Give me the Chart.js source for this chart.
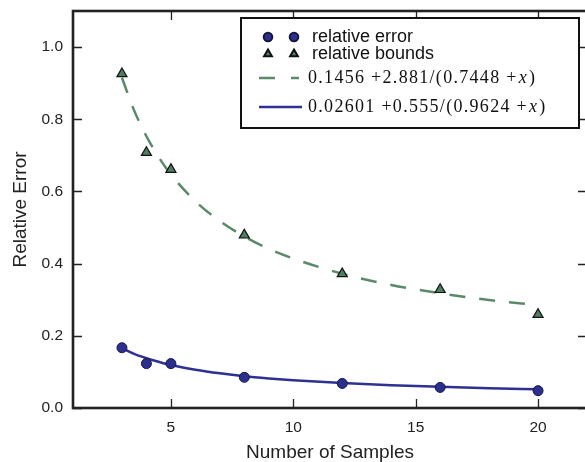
<!DOCTYPE html>
<html>
<head>
<meta charset="utf-8">
<script src="https://cdn.jsdelivr.net/npm/chart.js"></script>
<style>
  html, body { margin: 0; padding: 0; background: #fff; overflow: hidden; }
  #wrap { position: relative; width: 594px; height: 462px; }
</style>
</head>
<body>
<div id="wrap"><canvas id="grafica" width="594" height="462"></canvas></div>
<script>
// Muestras medidas
var muestras = [3, 4, 5, 8, 12, 16, 20];
var errorRelativo = [0.167, 0.123, 0.123, 0.085, 0.068, 0.057, 0.048];
var cotasRelativas = [0.926, 0.708, 0.661, 0.479, 0.372, 0.328, 0.259];

// Curvas de ajuste
var xAjuste = [3, 3.5, 4, 4.5, 5, 6, 7, 8, 9, 10, 12, 14, 16, 18, 20];
var ajusteCotas = [0.915, 0.824, 0.753, 0.695, 0.647, 0.573, 0.518, 0.475, 0.441, 0.414, 0.372, 0.341, 0.318, 0.299, 0.285];
var ajusteError = [0.166, 0.150, 0.138, 0.128, 0.119, 0.106, 0.096, 0.088, 0.082, 0.077, 0.069, 0.063, 0.059, 0.055, 0.052];

// Ejes
var xTicks = [5, 10, 15, 20];
var yTicks = [0, 0.2, 0.4, 0.6, 0.8, 1.0];
var etiquetas = ['relative error', 'relative bounds'];
var formulaCotas = ['0.1456 +2.881/(0.7448 +', 'x', ')'];
var formulaError = ['0.02601 +0.555/(0.9624 +', 'x', ')'];

var AZUL = '#2c2f8e', AZUL_BORDE = '#15173f', AZUL_LINEA = '#2e3192';
var VERDE = '#4f7e60', VERDE_LINEA = '#5a8a6a';

function puntos(xs, ys) {
    return xs.map(function (x, i) { return { x: x, y: ys[i] }; });
}

// sin relleno extra de las escalas
function sinPadding(s) {
    s.paddingTop = 0; s.paddingBottom = 0;
    s.paddingLeft = 0; s.paddingRight = 0;
}

// Marco con ticks hacia adentro en los cuatro lados
var marco = {
    id: 'marco',
    afterDatasetsDraw: function (chart) {
        var c = chart.ctx, a = chart.chartArea;
        var sx = chart.scales.x, sy = chart.scales.y;
        var largo = 9;
        c.save();
        c.strokeStyle = '#222';
        c.lineWidth = 1.3;
        c.beginPath();
        xTicks.forEach(function (v) {
            var px = Math.round(sx.getPixelForValue(v)) + 0.5;
            c.moveTo(px, a.bottom); c.lineTo(px, a.bottom - largo);
            c.moveTo(px, a.top); c.lineTo(px, a.top + largo);
        });
        yTicks.forEach(function (v) {
            var py = Math.round(sy.getPixelForValue(v)) + 0.5;
            c.moveTo(a.left, py); c.lineTo(a.left + largo, py);
            c.moveTo(a.right, py); c.lineTo(a.right - largo, py);
        });
        c.stroke();
        c.lineWidth = 2.6;
        c.strokeRect(a.left, a.top, a.right - a.left, a.bottom - a.top);
        c.restore();
    }
};

function textoFormula(c, partes, x, y) {
    c.letterSpacing = '1.3px';
    c.font = '18px "Liberation Serif"';
    c.fillText(partes[0], x, y);
    x += c.measureText(partes[0]).width + 1;
    c.font = 'italic 18px "Liberation Serif"';
    c.fillText(partes[1], x, y);
    x += c.measureText(partes[1]).width + 1;
    c.font = '18px "Liberation Serif"';
    c.fillText(partes[2], x, y);
    c.letterSpacing = '0px';
}

// Leyenda dentro del area del grafico
var leyenda = {
    id: 'leyenda',
    afterDraw: function (chart) {
        var c = chart.ctx;
        c.save();
        c.fillStyle = '#fff';
        c.fillRect(241, 18, 338, 110);
        c.strokeStyle = '#111';
        c.lineWidth = 2;
        c.strokeRect(241, 18, 338, 110);

        var filas = [37, 54, 78, 107];
        // circulos
        c.fillStyle = AZUL; c.strokeStyle = AZUL_BORDE;
        [268, 294].forEach(function (x) {
            Chart.helpers.drawPoint(c, { pointStyle: 'circle', radius: 4.3, borderWidth: 1, rotation: 0 }, x, filas[0]);
        });
        // triangulos
        c.fillStyle = VERDE; c.strokeStyle = '#111';
        [268, 294].forEach(function (x) {
            Chart.helpers.drawPoint(c, { pointStyle: 'triangle', radius: 4.5, borderWidth: 1, rotation: 0 }, x, filas[1]);
        });
        // lineas
        c.lineWidth = 2.5;
        c.strokeStyle = VERDE_LINEA;
        c.setLineDash([16, 16]);
        c.beginPath(); c.moveTo(259, filas[2]); c.lineTo(299, filas[2]); c.stroke();
        c.setLineDash([]);
        c.strokeStyle = AZUL_LINEA;
        c.beginPath(); c.moveTo(259, filas[3]); c.lineTo(302, filas[3]); c.stroke();

        // textos
        c.fillStyle = '#111';
        c.textBaseline = 'middle';
        c.font = '18px "Liberation Sans"';
        c.fillText(etiquetas[0], 312, filas[0]);
        c.fillText(etiquetas[1], 312, filas[1]);
        textoFormula(c, formulaCotas, 308, filas[2]);
        textoFormula(c, formulaError, 308, filas[3]);
        c.restore();
    }
};

var ctx = document.getElementById('grafica').getContext('2d');

var grafica = new Chart(ctx, {
    type: 'scatter',
    data: {
        datasets: [{
            label: etiquetas[0],
            data: puntos(muestras, errorRelativo),
            pointStyle: 'circle',
            pointRadius: 5,
            backgroundColor: AZUL,
            borderColor: AZUL_BORDE,
            borderWidth: 1
        }, {
            label: etiquetas[1],
            data: puntos(muestras, cotasRelativas),
            pointStyle: 'triangle',
            pointRadius: 5.8,
            backgroundColor: VERDE,
            borderColor: '#111',
            borderWidth: 1.2
        }, {
            label: formulaCotas.join(''),
            data: puntos(xAjuste, ajusteCotas),
            showLine: true,
            pointRadius: 0,
            borderColor: VERDE_LINEA,
            borderWidth: 2.5,
            borderDash: [16, 14],
            cubicInterpolationMode: 'monotone'
        }, {
            label: formulaError.join(''),
            data: puntos(xAjuste, ajusteError),
            showLine: true,
            pointRadius: 0,
            borderColor: AZUL_LINEA,
            borderWidth: 2.5,
            cubicInterpolationMode: 'monotone'
        }]
    },
    options: {
        responsive: false,
        animation: false,
        layout: { padding: { top: 11, right: 3, left: 0, bottom: 0 } },
        plugins: {
            legend: { display: false },
            tooltip: { enabled: false }
        },
        scales: {
            x: {
                type: 'linear',
                min: 1,
                max: 22,
                grid: { display: false, drawTicks: false, tickLength: 0 },
                border: { display: false },
                afterBuildTicks: function (s) { s.ticks = xTicks.map(function (v) { return { value: v }; }); },
                afterFit: function (s) { s.height = 54; sinPadding(s); },
                ticks: {
                    padding: 10,
                    maxRotation: 0,
                    color: '#222',
                    font: { family: 'Liberation Sans', size: 15.5 }
                },
                title: {
                    display: true,
                    text: 'Number of Samples',
                    color: '#222',
                    font: { family: 'Liberation Sans', size: 19, lineHeight: 1 },
                    padding: { top: 0, bottom: 0 }
                }
            },
            y: {
                min: 0,
                max: 1.1,
                grid: { display: false, drawTicks: false, tickLength: 0 },
                border: { display: false },
                afterBuildTicks: function (s) { s.ticks = yTicks.map(function (v) { return { value: v }; }); },
                afterFit: function (s) { s.width = 73; sinPadding(s); },
                ticks: {
                    padding: 10,
                    color: '#222',
                    font: { family: 'Liberation Sans', size: 15.5 },
                    callback: function (v) { return v.toFixed(1); }
                },
                title: {
                    display: true,
                    text: 'Relative Error',
                    color: '#222',
                    font: { family: 'Liberation Sans', size: 19, lineHeight: 1 },
                    padding: { top: 11, bottom: 0 }
                }
            }
        }
    },
    plugins: [marco, leyenda]
});
</script>
</body>
</html>
